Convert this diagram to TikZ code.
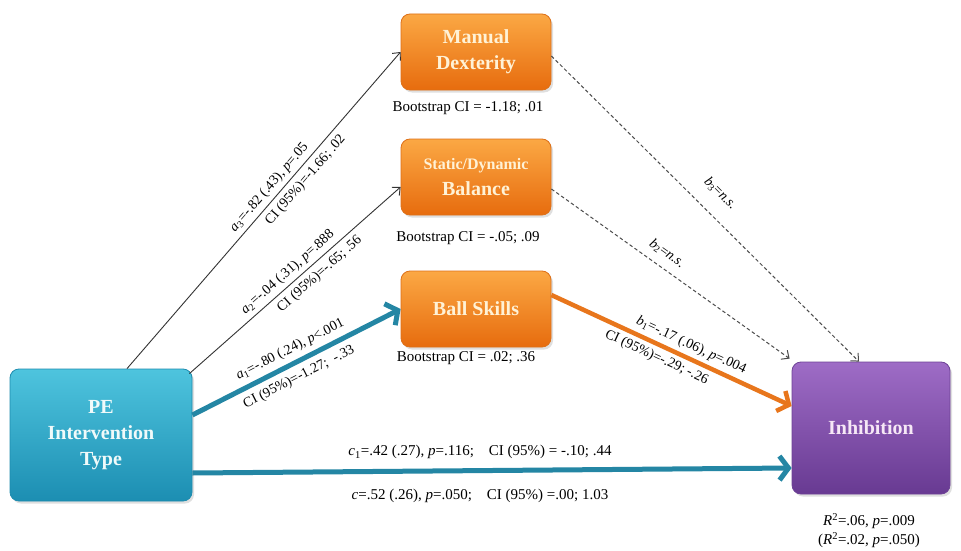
\documentclass[tikz,border=0pt]{standalone}
\usepackage{fontspec}
\setmainfont{Liberation Serif}
\usetikzlibrary{arrows.meta,shadows,calc}
\definecolor{tealA}{RGB}{36,134,164}
\definecolor{orL}{RGB}{232,118,28}
\definecolor{orT}{RGB}{251,168,68}
\definecolor{orD}{RGB}{231,108,14}
\definecolor{orB}{RGB}{222,112,24}
\definecolor{peT}{RGB}{78,196,222}
\definecolor{peD}{RGB}{28,142,178}
\definecolor{peB}{RGB}{30,140,175}
\definecolor{inT}{RGB}{158,108,198}
\definecolor{inD}{RGB}{104,58,146}
\definecolor{inB}{RGB}{110,66,150}
\definecolor{creamT}{RGB}{255,242,214}
\definecolor{peTxt}{RGB}{240,250,250}
\definecolor{inTxt}{RGB}{246,232,246}
\begin{document}
\begin{tikzpicture}[x=1pt,y=-1pt,
  box/.style={rounded corners=9pt, align=center, inner sep=0pt,
    font=\fontsize{20}{26}\selectfont\bfseries,
    drop shadow={opacity=0.25,shadow xshift=2pt,shadow yshift=-2.5pt}},
  obox/.style={box, draw=orB, line width=0.8pt, top color=orT, bottom color=orD, text=creamT,
    minimum width=150pt, minimum height=76pt},
  pebox/.style={box, draw=peB, line width=0.8pt, top color=peT, bottom color=peD, text=peTxt,
    minimum width=182pt, minimum height=132pt},
  inbox/.style={box, draw=inB, line width=0.8pt, top color=inT, bottom color=inD, text=inTxt,
    minimum width=158pt, minimum height=132pt},
  lbl/.style={font=\fontsize{14}{16}\selectfont, inner sep=1pt},
  boot/.style={font=\fontsize{15}{18}\selectfont, inner sep=0pt},
  thinarr/.style={draw=black!80, line width=0.9pt, -{Straight Barb[length=6pt,width=11pt]}},
  dasharr/.style={draw=black!70, line width=1pt, dash pattern=on 3.5pt off 2.5pt,
    -{Straight Barb[length=6pt,width=11pt]}},
  tealarr/.style={draw=tealA, line width=5pt, -{Straight Barb[length=9pt,width=24pt]}},
  orarr/.style={draw=orL, line width=4.5pt, -{Straight Barb[length=9pt,width=22pt]}},
]
\useasboundingbox (0,0) rectangle (961,551);
\fill[white] (0,0) rectangle (961,551);

% boxes
\node[obox] (MD) at (476,52) {Manual\\Dexterity};
\node[obox] (BA) at (476,177) {{\fontsize{16}{22}\selectfont Static/Dynamic}\\Balance};
\node[obox] (BS) at (476,309) {Ball Skills};
\node[pebox] (PE) at (101,435) {PE\\Intervention\\Type};
\node[inbox] (IN) at (871,428) {Inhibition};

% bootstrap labels
\node[boot] (bt1) at (468,108) {Bootstrap CI = -1.18; .01};
\node[boot] (bt2) at (468,238) {Bootstrap CI = -.05; .09};
\node[boot] (bt3) at (466,358) {Bootstrap CI = .02; .36};

% a paths
\draw[thinarr] ([xshift=26pt]PE.north) -- (MD.west)
  node[lbl,pos=0.55,above=3pt,sloped] {\textit{a}\textsubscript{3}=-.82 (.43), \textit{p}=.05}
  node[lbl,pos=0.62,below=4pt,sloped] {CI (95\%)=-1.66; .02};
\draw[thinarr] ([shift={(-3pt,-5pt)}]PE.north east) -- ([yshift=-10pt]BA.west)
  node[lbl,pos=0.5,above=3pt,sloped] {\textit{a}\textsubscript{2}=-.04 (.31), \textit{p}=.888}
  node[lbl,pos=0.58,below=4pt,sloped] {CI (95\%)=-.65; .56};
\draw[tealarr] ([yshift=20pt]PE.east) -- (BS.west)
  node[lbl,pos=0.5,above=4pt,sloped] {\textit{a}\textsubscript{1}=-.80 (.24), \textit{p}<.001}
  node[lbl,pos=0.48,below=5pt,sloped] {CI (95\%)=-1.27;\ \ -.33};

% b paths
\draw[dasharr] ([yshift=-4pt]MD.east) -- ([xshift=-12pt]IN.north)
  node[lbl,pos=0.5,above=14pt,sloped] {\textit{b}\textsubscript{3}=\textit{n.s.}};
\draw[dasharr] ([yshift=-12pt]BA.east) -- ([shift={(-2pt,3pt)}]IN.north west)
  node[lbl,pos=0.45,above=7pt,sloped] {\textit{b}\textsubscript{2}=\textit{n.s.}};
\draw[orarr] ([yshift=14pt]BS.east) -- ([yshift=22pt]IN.west)
  node[lbl,pos=0.56,above=3pt,sloped] {\textit{b}\textsubscript{1}=-.17 (.06), \textit{p}=.004}
  node[lbl,pos=0.46,below=3pt,sloped] {CI (95\%)=-.29; -.26};

% c path
\draw[tealarr] ([yshift=-38pt]PE.east) -- ([yshift=-40pt]IN.west)
  node[lbl,pos=0.48,above=8pt,font=\fontsize{15}{18}\selectfont] {\textit{c}\textsubscript{1}=.42 (.27), \textit{p}=.116;\quad CI (95\%) = -.10; .44}
  node[lbl,pos=0.48,below=15pt,font=\fontsize{15}{18}\selectfont] {\textit{c}=.52 (.26), \textit{p}=.050;\quad CI (95\%) =.00; 1.03};

% R2
\node[lbl,font=\fontsize{15}{18}\selectfont] (r1) at (869,521) {\textit{R}\textsuperscript{2}=.06, \textit{p}=.009};
\node[lbl,font=\fontsize{15}{18}\selectfont] (r2) at (869,540) {(\textit{R}\textsuperscript{2}=.02, \textit{p}=.050)};
\end{tikzpicture}
\end{document}
